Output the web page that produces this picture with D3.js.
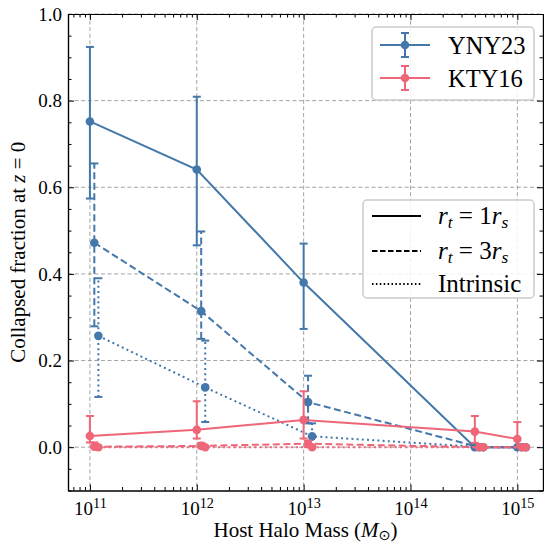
<!DOCTYPE html>
<html>
<head>
<meta charset="utf-8">
<script src="https://cdn.jsdelivr.net/npm/d3@7"></script>
<style>
  body { margin: 0; background: #fff; }
  svg text { font-family: "Liberation Serif", "Times New Roman", "DejaVu Serif", serif; fill: #000; }
</style>
</head>
<body>
<svg id="chart" width="544" height="543"></svg>
<script>
// -----------------------------
//  DATA
// -----------------------------
const masses = [1e11, 1e12, 1e13, 4e14, 1e15];
// small multiplicative x shift used in the figure so bars don't overlap
const shiftR1 = 1.0, shiftR3 = 1.1, shiftIntr = 1.2;

// YNY23
const ynyR1 = [0.752, 0.641, 0.380, 0, 0];
const ynyR1Lo = [0.574, 0.466, 0.273, 0, 0];
const ynyR1Hi = [0.924, 0.809, 0.470, 0, 0];
const ynyR3 = [0.472, 0.314, 0.104, 0, 0];
const ynyR3Lo = [0.279, 0.250, 0.055, 0, 0];
const ynyR3Hi = [0.655, 0.498, 0.165, 0, 0];
const ynyIntr = [0.257, 0.138, 0.025, 0, 0];
const ynyIntrLo = [0.116, 0.058, 0.003, 0, 0];
const ynyIntrHi = [0.390, 0.246, 0.055, 0, 0];

// KTY16
const ktyR1 = [0.026, 0.040, 0.063, 0.036, 0.019];
const ktyR1Lo = [0.011, 0.020, 0.020, 0.010, 0.0];
const ktyR1Hi = [0.072, 0.106, 0.129, 0.072, 0.058];
const ktyR3 = [0.001, 0.003, 0.008, 0, 0];
const ktyR3Lo = [0, 0, 0, 0, 0];
const ktyR3Hi = [0.011, 0.010, 0.015, 0, 0];
const ktyIntr = [0, 0, 0, 0, 0];

const xMajor = [1e11, 1e12, 1e13, 1e14, 1e15];
const yMajor = [0.0, 0.2, 0.4, 0.6, 0.8, 1.0];

const colors = { YNY23: "#4477AA", KTY16: "#EE6677" };
const dashes = { solid: null, dashed: "7,3.5", dotted: "2,3.2" };
const FONT = "Liberation Serif, Times New Roman, DejaVu Serif, serif";

// build the draw table from the arrays above
const series = [
    { group: "YNY23", style: "solid",  shift: shiftR1,   val: ynyR1,   lo: ynyR1Lo,   hi: ynyR1Hi },
    { group: "YNY23", style: "dashed", shift: shiftR3,   val: ynyR3,   lo: ynyR3Lo,   hi: ynyR3Hi },
    { group: "YNY23", style: "dotted", shift: shiftIntr, val: ynyIntr, lo: ynyIntrLo, hi: ynyIntrHi },
    { group: "KTY16", style: "solid",  shift: shiftR1,   val: ktyR1,   lo: ktyR1Lo,   hi: ktyR1Hi },
    { group: "KTY16", style: "dashed", shift: shiftR3,   val: ktyR3,   lo: ktyR3Lo,   hi: ktyR3Hi },
    { group: "KTY16", style: "dotted", shift: shiftIntr, val: ktyIntr, lo: ktyIntr,   hi: ktyIntr }
].map(s => ({
    ...s,
    pts: masses.map((m, i) => ({ m: m * s.shift, v: s.val[i], lo: s.lo[i], hi: s.hi[i] }))
}));

// -----------------------------
//  SCALES / FRAME
// -----------------------------
const svg = d3.select("#chart").attr("font-family", FONT);
const L = 68, R = 543, T = 14, B = 490.5;

const x = d3.scaleLog().domain([Math.pow(10, 10.795), Math.pow(10, 15.24)]).range([L, R]);
const y = d3.scaleLinear().domain([-0.1, 1.0]).range([B, T]);

const xMinor = [];
for (let k = 10; k <= 15; k++) {
    for (let j = 2; j <= 9; j++) {
        const v = j * Math.pow(10, k);
        if (v > x.domain()[0] && v < x.domain()[1]) xMinor.push(v);
    }
}
const yMinor = d3.range(-0.1, 1.0001, 0.05).map(v => +v.toFixed(2)).filter(v => !yMajor.includes(v));

// GRID
const grid = svg.append("g").attr("class", "grid")
    .attr("stroke", "#999").attr("stroke-width", 0.9).attr("stroke-dasharray", "4,2.6");
grid.selectAll("line.gx").data(xMajor).enter().append("line")
    .attr("x1", d => x(d)).attr("x2", d => x(d)).attr("y1", T).attr("y2", B);
grid.selectAll("line.gy").data(yMajor).enter().append("line")
    .attr("x1", L).attr("x2", R).attr("y1", d => y(d)).attr("y2", d => y(d));

// -----------------------------
//  DATA MARKS
// -----------------------------
const line = d3.line().x(d => x(d.m)).y(d => y(d.v));
const cap = 4;

series.forEach(s => {
    const c = colors[s.group];
    const g = svg.append("g").attr("class", s.group + "-" + s.style);

    // error bars
    g.selectAll("line.err").data(s.pts).enter().append("line")
        .attr("x1", d => x(d.m)).attr("x2", d => x(d.m))
        .attr("y1", d => y(d.lo)).attr("y2", d => y(d.hi))
        .attr("stroke", c).attr("stroke-width", 2)
        .attr("stroke-dasharray", dashes[s.style]);
    ["lo", "hi"].forEach(k => {
        g.selectAll("line.cap-" + k).data(s.pts).enter().append("line")
            .attr("x1", d => x(d.m) - cap).attr("x2", d => x(d.m) + cap)
            .attr("y1", d => y(d[k])).attr("y2", d => y(d[k]))
            .attr("stroke", c).attr("stroke-width", 2);
    });

    // connecting line
    g.append("path").datum(s.pts)
        .attr("d", line)
        .attr("fill", "none")
        .attr("stroke", c).attr("stroke-width", 2)
        .attr("stroke-dasharray", dashes[s.style]);

    // markers
    g.selectAll("circle").data(s.pts).enter().append("circle")
        .attr("cx", d => x(d.m)).attr("cy", d => y(d.v)).attr("r", 4.3)
        .attr("fill", c);
});

// -----------------------------
//  AXES (ticks inward on all sides)
// -----------------------------
function styleAxis(g) {
    g.attr("font-family", FONT);
    g.select(".domain").attr("stroke", "#000").attr("stroke-width", 1.2);
    g.selectAll(".tick line").attr("stroke", "#000").attr("stroke-width", 1);
    g.selectAll(".tick text").attr("font-size", 19).attr("fill", "#000");
}

const xb = svg.append("g").attr("transform", `translate(0,${B})`)
    .call(d3.axisBottom(x).tickValues(xMajor).tickSizeInner(-6).tickSizeOuter(0).tickPadding(5).tickFormat(""));
xb.call(styleAxis);
xb.selectAll(".tick text").each(function (d) {
    const t = d3.select(this).text(null).attr("dy", "1.05em");
    t.append("tspan").text("10");
    t.append("tspan").attr("dy", "-0.55em").attr("font-size", "0.75em").text(Math.round(Math.log10(d)));
});
svg.append("g").attr("transform", `translate(0,${B})`)
    .call(d3.axisBottom(x).tickValues(xMinor).tickSizeInner(-3.5).tickSizeOuter(0).tickFormat(""))
    .call(styleAxis);

svg.append("g").attr("transform", `translate(0,${T})`)
    .call(d3.axisTop(x).tickValues(xMajor).tickSizeInner(-6).tickSizeOuter(0).tickFormat(""))
    .call(styleAxis);
svg.append("g").attr("transform", `translate(0,${T})`)
    .call(d3.axisTop(x).tickValues(xMinor).tickSizeInner(-3.5).tickSizeOuter(0).tickFormat(""))
    .call(styleAxis);

svg.append("g").attr("transform", `translate(${L},0)`)
    .call(d3.axisLeft(y).tickValues(yMajor).tickSizeInner(-6).tickSizeOuter(0).tickPadding(6).tickFormat(d3.format(".1f")))
    .call(styleAxis);
svg.append("g").attr("transform", `translate(${L},0)`)
    .call(d3.axisLeft(y).tickValues(yMinor).tickSizeInner(-3.5).tickSizeOuter(0).tickFormat(""))
    .call(styleAxis);

svg.append("g").attr("transform", `translate(${R},0)`)
    .call(d3.axisRight(y).tickValues(yMajor).tickSizeInner(-6).tickSizeOuter(0).tickFormat(""))
    .call(styleAxis);
svg.append("g").attr("transform", `translate(${R},0)`)
    .call(d3.axisRight(y).tickValues(yMinor).tickSizeInner(-3.5).tickSizeOuter(0).tickFormat(""))
    .call(styleAxis);

// AXIS LABELS
const xlab = svg.append("text").attr("x", (L + R) / 2).attr("y", 537)
    .attr("text-anchor", "middle").attr("font-size", 21);
xlab.append("tspan").text("Host Halo Mass (");
xlab.append("tspan").attr("font-style", "italic").text("M");
xlab.append("tspan").attr("font-size", "0.68em").attr("dy", "0.18em").attr("font-family", "DejaVu Sans").text("\u2299");
xlab.append("tspan").attr("dy", "-0.122em").text(")");

const ylab = svg.append("text")
    .attr("transform", `translate(25,${(T + B) / 2}) rotate(-90)`)
    .attr("text-anchor", "middle").attr("font-size", 21);
ylab.append("tspan").text("Collapsed fraction at ");
ylab.append("tspan").attr("font-style", "italic").text("z");
ylab.append("tspan").text(" = 0");

// -----------------------------
//  LEGENDS
// -----------------------------
function legendBox(x0, y0, w, h) {
    svg.append("rect").attr("x", x0).attr("y", y0).attr("width", w).attr("height", h)
        .attr("rx", 4).attr("fill", "#fff").attr("fill-opacity", 0.85)
        .attr("stroke", "#ccc").attr("stroke-width", 1.5);
}

legendBox(372, 27, 162, 73);
[["YNY23", 45], ["KTY16", 78]].forEach(([name, cy]) => {
    const c = colors[name];
    const g = svg.append("g");
    g.append("line").attr("x1", 380).attr("x2", 430).attr("y1", cy).attr("y2", cy)
        .attr("stroke", c).attr("stroke-width", 2);
    g.append("line").attr("x1", 405).attr("x2", 405).attr("y1", cy - 12).attr("y2", cy + 12)
        .attr("stroke", c).attr("stroke-width", 2);
    [cy - 12, cy + 12].forEach(yy => g.append("line").attr("x1", 405 - cap).attr("x2", 405 + cap)
        .attr("y1", yy).attr("y2", yy).attr("stroke", c).attr("stroke-width", 2));
    g.append("circle").attr("cx", 405).attr("cy", cy).attr("r", 4.3).attr("fill", c);
    g.append("text").attr("x", 448).attr("y", cy + 8.5).attr("font-size", 24.5).text(name);
});

legendBox(363, 200, 171, 98);
const styleRows = [["solid", 216, "1"], ["dashed", 251, "3"], ["dotted", 284, null]];
styleRows.forEach(([st, cy, k]) => {
    svg.append("line").attr("x1", 372).attr("x2", 421).attr("y1", cy).attr("y2", cy)
        .attr("stroke", "#000").attr("stroke-width", 2)
        .attr("stroke-dasharray", st === "dashed" ? "5.5,2.5" : st === "dotted" ? "1.5,2.4" : null);
    const t = svg.append("text").attr("x", 438).attr("y", cy + 7.5).attr("font-size", 25);
    if (k) {
        t.append("tspan").attr("font-style", "italic").text("r");
        t.append("tspan").attr("font-style", "italic").attr("font-size", "0.7em").attr("dy", "0.25em").text("t");
        t.append("tspan").attr("dy", "-0.175em").text(" = " + k);
        t.append("tspan").attr("font-style", "italic").text("r");
        t.append("tspan").attr("font-style", "italic").attr("font-size", "0.7em").attr("dy", "0.25em").text("s");
    } else {
        t.text("Intrinsic");
    }
});
</script>
</body>
</html>
